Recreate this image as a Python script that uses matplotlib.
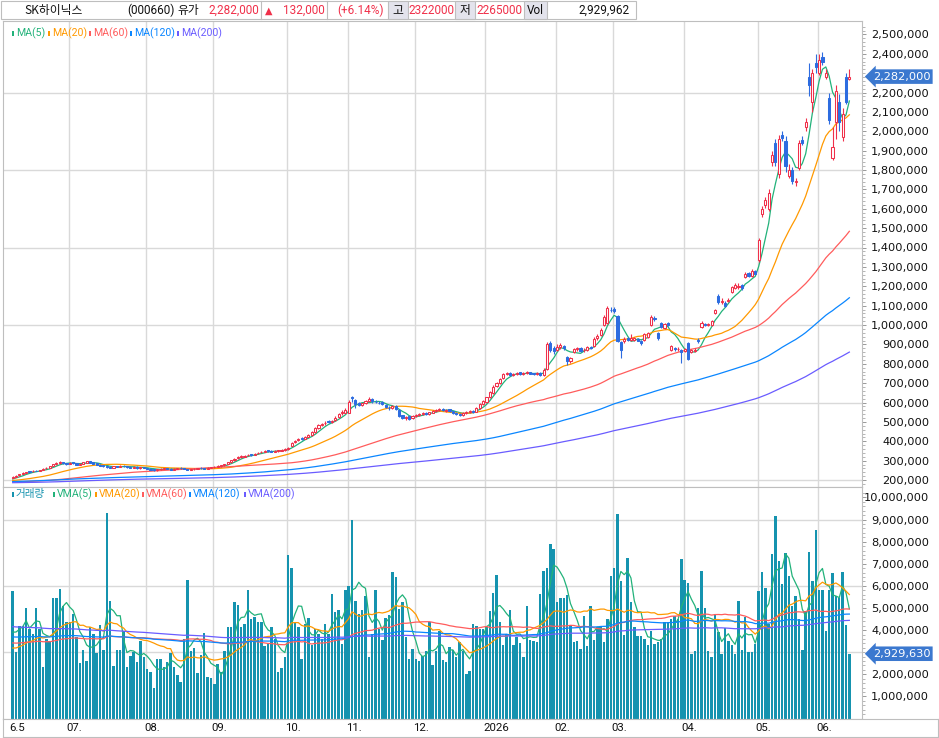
import numpy as np
import pandas as pd
import matplotlib
matplotlib.use("Agg")
import matplotlib.pyplot as plt
from matplotlib.patches import Rectangle
from matplotlib.transforms import blended_transform_factory

plt.rcParams["font.family"] = ["DejaVu Sans", "Noto Sans CJK KR"]

# ---- daily candles, thousands of won (2025-06-05 .. 2026-06) ----
closes = [
    216, 222, 229, 236, 240, 243, 248, 246, 251, 258, 262, 270, 281, 287, 292, 286, 283,
    290, 286, 280, 284, 291, 296, 290, 285, 279, 274, 270, 267, 264, 270, 268, 273, 270, 267, 264, 268, 262, 266, 263,
    257, 254, 251, 255, 258, 261, 257, 254, 258, 262, 260, 257, 254, 256, 259, 262, 260, 258, 263, 266,
    268, 272, 276, 281, 291, 301, 310, 318, 322, 326, 329, 331, 336, 341, 346, 349, 351, 346, 350, 353, 356, 359,
    366, 392, 401, 410, 414, 421, 431, 446, 466, 482, 490, 496, 500, 506, 522, 541, 551, 562,
    601, 622, 591, 586, 596, 606, 616, 606, 601, 598, 591, 576, 571, 581, 566, 531, 521, 526, 516, 531,
    536, 541, 546, 541, 549, 556, 561, 566, 559, 563, 556, 546, 539, 536, 546, 551, 556, 553, 571, 591, 606,
    626, 652, 682, 702, 722, 746, 751, 741, 749, 753, 746, 751, 756, 749, 746, 751, 741, 770, 900, 870, 865,
    885, 895, 880, 815, 830, 875, 880, 868, 873, 885, 883, 930, 945, 975, 1040, 1090, 1075,
    1070, 920, 870, 930, 925, 935, 932, 920, 905, 955, 960, 1040, 1030, 935, 990, 1005, 1000, 890, 875, 878, 860,
    875, 825, 870, 872, 915, 1010, 1000, 1005, 1020, 1080, 1120, 1125, 1100, 1130, 1195, 1205, 1200, 1190, 1265, 1255, 1280, 1265,
    1440, 1600, 1645, 1680, 1880, 1840, 1960, 1965, 1820, 1800, 1745, 1742, 1940, 1940, 2050, 2240, 2300, 2330,
    2370, 2360, 2300, 2060, 1920, 2210, 2050, 2090, 2150, 2282,
]
opens = [
    211, 217, 224, 233, 237, 244, 244, 249, 246, 252, 260, 264, 273, 283, 286, 292, 287,
    285, 291, 287, 279, 285, 290, 297, 291, 286, 280, 275, 271, 268, 263, 271, 267, 274, 271, 268, 263, 269, 261, 267,
    262, 258, 255, 251, 255, 257, 262, 258, 253, 257, 263, 261, 258, 253, 255, 258, 263, 261, 257, 262,
    265, 268, 272, 277, 283, 292, 302, 311, 320, 321, 327, 332, 330, 337, 343, 347, 353, 351, 345, 351, 352, 357,
    360, 378, 398, 404, 415, 413, 424, 432, 448, 470, 486, 492, 504, 498, 508, 526, 545, 548,
    548, 628, 612, 598, 585, 596, 610, 618, 604, 600, 602, 589, 574, 570, 582, 562, 533, 519, 528, 518,
    530, 535, 540, 546, 540, 548, 556, 560, 567, 558, 564, 555, 546, 540, 535, 545, 550, 557, 552, 572, 590,
    605, 628, 650, 684, 700, 724, 746, 752, 740, 748, 755, 745, 750, 757, 750, 745, 752, 742, 775, 905, 880,
    872, 884, 893, 835, 812, 860, 878, 880, 870, 872, 886, 890, 932, 950, 1000, 1010, 1080,
    1085, 1045, 910, 915, 935, 925, 925, 930, 918, 925, 940, 1000, 1035, 960, 1010, 985, 1010, 870, 880, 875, 870,
    868, 905, 860, 868, 925, 990, 1005, 998, 1000, 1060, 1150, 1120, 1115, 1122, 1170, 1190, 1195, 1205, 1250, 1270, 1255, 1280,
    1335, 1575, 1620, 1600, 1840, 1940, 1780, 1980, 1950, 1770, 1800, 1740, 1810, 1955, 2020, 2280, 2150, 2350,
    2300, 2385, 2280, 2170, 1860, 2050, 2150, 1970, 2280, 2270,
]
highs = [
    219, 224, 231, 239, 243, 247, 251, 251, 253, 260, 266, 273, 284, 291, 297, 294, 289,
    294, 294, 289, 287, 294, 300, 299, 293, 288, 282, 277, 273, 270, 273, 274, 276, 276, 273, 270, 271, 270, 268, 269,
    264, 260, 257, 257, 260, 263, 264, 260, 260, 264, 265, 263, 259, 258, 261, 264, 265, 263, 265, 269,
    271, 275, 279, 284, 294, 305, 314, 322, 327, 330, 334, 336, 340, 346, 351, 353, 357, 354, 353, 357, 360, 364,
    370, 396, 406, 415, 420, 426, 436, 452, 472, 488, 496, 502, 510, 512, 528, 548, 560, 570,
    612, 636, 618, 602, 600, 611, 630, 622, 612, 606, 606, 592, 580, 586, 588, 568, 538, 532, 532, 536,
    542, 546, 552, 550, 553, 560, 566, 571, 570, 566, 568, 558, 549, 544, 550, 556, 561, 561, 575, 596, 612,
    630, 658, 690, 708, 728, 752, 758, 755, 754, 758, 758, 756, 761, 760, 754, 756, 756, 776, 910, 915, 890,
    900, 905, 898, 840, 836, 880, 888, 885, 880, 890, 892, 938, 952, 985, 1050, 1100, 1095,
    1095, 1050, 915, 940, 940, 955, 940, 935, 922, 960, 965, 1050, 1045, 965, 1015, 1010, 1015, 895, 885, 885, 875,
    882, 912, 875, 880, 935, 1020, 1012, 1012, 1025, 1085, 1160, 1140, 1122, 1138, 1200, 1215, 1215, 1210, 1275, 1275, 1290, 1285,
    1450, 1615, 1660, 1700, 1900, 1960, 1980, 2000, 1975, 1830, 1815, 1760, 1955, 1975, 2070, 2350, 2320, 2400,
    2400, 2410, 2320, 2200, 2020, 2240, 2190, 2120, 2300, 2322,
]
lows = [
    209, 215, 222, 230, 235, 240, 242, 244, 244, 250, 257, 262, 271, 279, 284, 284, 279,
    282, 284, 277, 277, 283, 288, 288, 282, 276, 271, 267, 264, 261, 261, 265, 265, 268, 264, 261, 261, 259, 258, 260,
    255, 252, 249, 249, 253, 255, 255, 252, 251, 255, 258, 255, 252, 251, 253, 256, 258, 256, 255, 260,
    262, 265, 269, 274, 281, 289, 299, 307, 315, 318, 323, 326, 327, 333, 339, 343, 346, 342, 342, 347, 349, 352,
    356, 375, 393, 400, 408, 410, 420, 428, 444, 465, 480, 486, 494, 494, 504, 520, 538, 544,
    545, 605, 570, 580, 580, 590, 605, 600, 596, 592, 585, 570, 562, 566, 560, 525, 515, 512, 510, 515,
    526, 531, 536, 536, 536, 544, 552, 555, 555, 553, 552, 542, 534, 530, 531, 541, 546, 548, 549, 568, 585,
    600, 624, 646, 680, 696, 720, 740, 736, 736, 744, 742, 740, 746, 745, 740, 740, 736, 738, 770, 860, 850,
    868, 878, 870, 795, 805, 855, 868, 862, 862, 868, 878, 885, 925, 945, 995, 1005, 1065,
    1060, 910, 830, 905, 918, 920, 920, 915, 898, 920, 935, 995, 1020, 925, 985, 980, 995, 865, 868, 868, 805,
    862, 818, 855, 862, 905, 985, 995, 994, 995, 1055, 1110, 1110, 1092, 1118, 1165, 1185, 1185, 1182, 1245, 1250, 1250, 1262,
    1325, 1560, 1605, 1590, 1820, 1820, 1760, 1950, 1790, 1760, 1730, 1720, 1800, 1930, 2000, 2180, 2100, 2300,
    2290, 2340, 2270, 2040, 1850, 1960, 2000, 1950, 2140, 2265,
]
# daily volume, millions of shares
volumes = [
    5.77, 3.00, 4.20, 4.20, 4.98, 4.05, 3.82, 5.02, 4.05, 2.32, 3.60, 3.52, 5.43, 5.47, 5.88, 5.10, 4.35,
    4.38, 4.72, 3.67, 2.52, 3.12, 2.62, 4.15, 3.82, 2.95, 4.23, 3.12, 9.30, 5.32, 2.39, 3.12, 3.12, 3.97,
    2.32, 2.85, 3.00, 2.55, 3.52, 2.80, 2.24, 2.09, 1.39, 2.69, 2.69, 2.32, 2.55, 2.95, 2.32, 1.99, 1.67,
    3.60, 6.27, 3.04, 3.18, 2.05, 2.88, 3.87, 1.87, 1.82, 1.57, 2.47, 2.09, 3.07, 4.15, 4.15, 5.25, 5.14,
    4.15, 4.27, 5.82, 4.50, 4.60, 4.38, 4.38, 3.30, 3.37, 4.15, 3.60, 2.12, 2.27, 2.77, 7.39, 6.82, 4.35,
    4.12, 2.70, 4.27, 4.53, 3.33, 4.05, 3.82, 3.60, 4.27, 3.82, 5.65, 4.80, 4.90, 3.37, 5.80, 5.98, 9.00,
    5.32, 4.72, 4.90, 5.52, 2.77, 3.82, 5.80, 4.05, 3.55, 4.53, 4.68, 6.64, 6.42, 4.95, 5.28, 3.67, 2.70,
    3.14, 2.70, 2.59, 2.85, 3.07, 4.35, 2.42, 3.07, 3.97, 2.65, 2.55, 3.25, 3.10, 2.77, 3.45, 3.07, 2.02,
    2.17, 4.27, 4.20, 4.05, 4.05, 4.15, 4.87, 5.70, 6.49, 4.35, 3.34, 3.82, 4.90, 3.33, 3.67, 3.40, 2.77,
    5.10, 3.55, 3.52, 3.45, 5.65, 6.67, 6.82, 7.88, 7.65, 5.25, 5.47, 5.47, 5.58, 4.23, 3.45,
    3.52, 3.13, 4.65, 3.27, 5.07, 3.55, 4.12, 4.12, 3.45, 4.50, 6.45, 6.83, 9.26, 6.22, 3.78, 7.24, 5.29,
    4.12, 3.72, 3.72, 3.60, 3.33, 3.94, 3.37, 3.45, 3.60, 4.35, 4.35, 4.50, 4.65, 4.50, 7.20, 6.25, 6.12,
    2.92, 3.07, 5.02, 6.67, 5.02, 3.07, 2.77, 4.75, 3.90, 2.92, 4.08, 3.52, 3.33, 2.92, 5.32, 3.12, 4.57,
    3.00, 3.00, 3.37, 5.77, 6.64, 5.89, 4.27, 7.42, 9.15, 7.12, 6.07, 7.47, 6.45, 5.10, 5.55, 4.50, 3.12,
    4.87, 7.55, 6.22, 8.53, 5.82, 5.82, 3.94, 5.82, 6.57, 5.55, 5.47, 6.63, 4.23, 2.92963,
]
# history before the first visible day (monthly level, trading days per month) for the moving averages
prior_days = [21, 19, 21, 21, 20, 19, 19, 21, 21, 20, 3]
prior_close = [180, 160, 190, 180, 170, 205, 200, 200, 175, 195, 205]
prior_volume = [5.5, 5.2, 4.6, 4.5, 3.9, 4.3, 3.8, 3.6, 3.6, 2.95, 3.6]

ma_periods = [5, 20, 60, 120, 200]
ma_colors = ["#22B27A", "#FF9900", "#FF5C5C", "#0A86FF", "#6A5CFF"]

month_idx = [0, 17, 40, 60, 82, 100, 120, 141, 162, 179, 200, 222, 240]
month_labels = ["6.5", "07.", "08.", "09.", "10.", "11.", "12.", "2026", "02.", "03.", "04.", "05.", "06."]

header_volume = 2929962

RED = "#F0304A"
BLUE = "#2D6CE0"
VOL_COLOR = "#1593AF"
GRID = "#D9D9D9"
FRAME = "#BEBEBE"
NUM_FONT = ["Roboto", "DejaVu Sans"]
KR_FONT = ["Noto Sans CJK KR", "DejaVu Sans"]

o = np.array(opens) * 1000.0
c = np.array(closes) * 1000.0
h = np.array(highs) * 1000.0
l = np.array(lows) * 1000.0
v = np.array(volumes) * 1e6
n = len(c)
x = np.arange(n)

pc = pd.Series(np.concatenate([np.repeat(np.array(prior_close) * 1000.0, prior_days), c]))
pv = pd.Series(np.concatenate([np.repeat(np.array(prior_volume) * 1e6, prior_days), v]))
ma = {p: pc.rolling(p).mean().to_numpy()[-n:] for p in ma_periods}
vma = {p: pv.rolling(p).mean().to_numpy()[-n:] for p in ma_periods}

# ---- layout in pixels ----
W, H = 939, 738
X0, PITCH = 12.7, 3.36
AX_RIGHT, LABEL_RIGHT = 862, 929


def rect(x0, y0, x1, y1):
    return [x0 / W, 1 - y1 / H, (x1 - x0) / W, (y1 - y0) / H]


def xspan(a, b):
    return ((a - X0) / PITCH, (b - X0) / PITCH)


fig = plt.figure(figsize=(W / 100, H / 100), dpi=100, facecolor="white")
ax_p = fig.add_axes(rect(3, 21, AX_RIGHT, 487))
ax_v = fig.add_axes(rect(3, 487, AX_RIGHT, 719))
ax_d = fig.add_axes(rect(3, 719, 938, 737))

tick_len = 3.0
label_pad = (LABEL_RIGHT - AX_RIGHT) * 0.72 - tick_len

for ax in (ax_p, ax_v):
    ax.set_xlim(*xspan(3, AX_RIGHT))
    for s in ax.spines.values():
        s.set_color(FRAME)
        s.set_linewidth(0.8)
    ax.set_xticks([])
    ax.yaxis.tick_right()
    ax.tick_params(axis="y", which="major", length=tick_len, width=0.7, color="#999999",
                   labelsize=8.2, pad=label_pad, labelcolor="#111111")
    ax.tick_params(axis="y", which="minor", length=1.8, width=0.6, color="#AAAAAA")
    for m in month_idx[1:]:
        ax.axvline(m - 0.3, color=GRID, lw=1, zorder=0)

# price panel
ax_p.set_ylim(200000 - 7 / 19.375 * 1e5, 200000 + 459 / 19.375 * 1e5)
for g in [200000, 600000, 1000000, 1400000, 1800000, 2200000]:
    ax_p.axhline(g, color=GRID, lw=1, zorder=0)
pticks = np.arange(200000, 2500001, 100000)
pticks = pticks[np.abs(pticks - c[-1]) > 40000]   # the one under the last-price tag
ax_p.set_yticks(pticks)
ax_p.set_yticklabels([f"{t:,}" for t in pticks], ha="right")
ax_p.set_yticks(np.arange(180000, 2560000, 20000), minor=True)

for p, col in zip(ma_periods, ma_colors):
    ax_p.plot(x, ma[p], color=col, lw=0.9, zorder=2)

up = c >= o
ccol = np.where(up, RED, BLUE)
ax_p.vlines(x, np.minimum(l, np.minimum(o, c)), np.maximum(h, np.maximum(o, c)),
            colors=ccol, lw=0.8, zorder=3)
lo = np.minimum(o, c)
ht = np.abs(c - o)
ax_p.bar(x[up], ht[up], 0.62, bottom=lo[up], facecolor="white", edgecolor=RED, lw=0.75, zorder=4)
ax_p.bar(x[~up], ht[~up], 0.62, bottom=lo[~up], facecolor=BLUE, edgecolor=BLUE, lw=0.75, zorder=4)

# volume panel
ax_v.set_ylim(-0.5 / 22.2 * 1e6, 232.5 / 22.2 * 1e6)
for g in [3e6, 6e6, 9e6]:
    ax_v.axhline(g, color=GRID, lw=1, zorder=0)
vticks = np.arange(1000000, 10000001, 1000000)
vticks = vticks[np.abs(vticks - v[-1]) > 400000]
ax_v.set_yticks(vticks)
ax_v.set_yticklabels([f"{t:,}" for t in vticks], ha="right")
ax_v.set_yticks(np.arange(200000, 10400000, 200000), minor=True)
ax_v.bar(x, v, 0.72, color=VOL_COLOR, zorder=2)
for p, col in zip(ma_periods, ma_colors):
    ax_v.plot(x, vma[p], color=col, lw=0.9, zorder=3)

# last value tags
for ax, val in ((ax_p, c[-1]), (ax_v, v[-1])):
    tr = blended_transform_factory(ax.transAxes, ax.transData)
    ax.text(1.0125, val, f"{int(round(val)):,}", transform=tr, color="white", fontsize=8.2,
            ha="left", va="center", clip_on=False, zorder=20,
            bbox=dict(boxstyle="larrow,pad=0.2", fc="#3B78CF", ec="none"))

# date strip
ax_d.set_xlim(*xspan(3, 938))
ax_d.set_ylim(0, 1)
ax_d.set_xticks([])
ax_d.set_yticks([])
for s in ax_d.spines.values():
    s.set_color(FRAME)
    s.set_linewidth(0.8)
for m, lab in zip(month_idx, month_labels):
    ax_d.text(m - 0.9, 0.48, lab, ha="left", va="center", fontsize=8.2, color="#111111",
              family=NUM_FONT)

# overlay: header row and legends
ov = fig.add_axes([0, 0, 1, 1], zorder=10)
ov.set_xlim(0, W)
ov.set_ylim(H, 0)
ov.axis("off")
ov.patch.set_alpha(0)

ov.add_patch(Rectangle((1, 1), 635, 18, fc="white", ec=FRAME, lw=0.8))
for a, b in [(388, 408), (455, 475), (524, 547)]:
    ov.add_patch(Rectangle((a, 1), b - a, 18, fc="#E3E3EC", ec=FRAME, lw=0.8))
for sx in [261, 327]:
    ov.plot([sx, sx], [1, 19], color=FRAME, lw=0.8)

last, prev = closes[-1] * 1000, closes[-2] * 1000
chg = last - prev
hy = 10.5
hdr = dict(va="center", fontsize=8.5, family=NUM_FONT)
hkr = dict(va="center", fontsize=8.5, family=KR_FONT)
ov.text(24, hy, "SK하이닉스", color="#111111", **hkr)
ov.text(127, hy, "(000660)", color="#111111", **hdr)
ov.text(177, hy, "유가", color="#111111", **hkr)
ov.text(259, hy, f"{last:,}", color=RED, ha="right", **hdr)
ov.text(265, hy, "▲", color=RED, fontsize=7, va="center")
ov.text(325, hy, f"{chg:,}", color=RED, ha="right", **hdr)
ov.text(361, hy, f"(+{chg / prev * 100:.2f}%)", color=RED, ha="center", **hdr)
ov.text(398, hy, "고", color="#111111", ha="center", **hkr)
ov.text(431.5, hy, f"{highs[-1] * 1000}", color=RED, ha="center", **hdr)
ov.text(465, hy, "저", color="#111111", ha="center", **hkr)
ov.text(499.5, hy, f"{lows[-1] * 1000}", color=RED, ha="center", **hdr)
ov.text(535.5, hy, "Vol", color="#111111", ha="center", **hdr)
ov.text(630, hy, f"{header_volume:,}", color="#111111", ha="right", **hdr)


def legend_row(y, xs, labels, colors):
    for lx, lab, col in zip(xs, labels, colors):
        ov.add_patch(Rectangle((lx, y - 2.5), 2.4, 5, fc=col, ec="none"))
        ov.text(lx + 3.8, y, lab, color=col, fontsize=7.6, va="center", ha="left",
                family=["Roboto", "Noto Sans CJK KR"])


legend_row(33, [12, 48, 89, 130, 177], [f"MA({p})" for p in ma_periods], ma_colors)
legend_row(494, [12, 53, 95, 142, 189, 244], ["거래량"] + [f"VMA({p})" for p in ma_periods],
           [VOL_COLOR] + ma_colors)

fig.savefig("out.png", dpi=100, facecolor="white")
